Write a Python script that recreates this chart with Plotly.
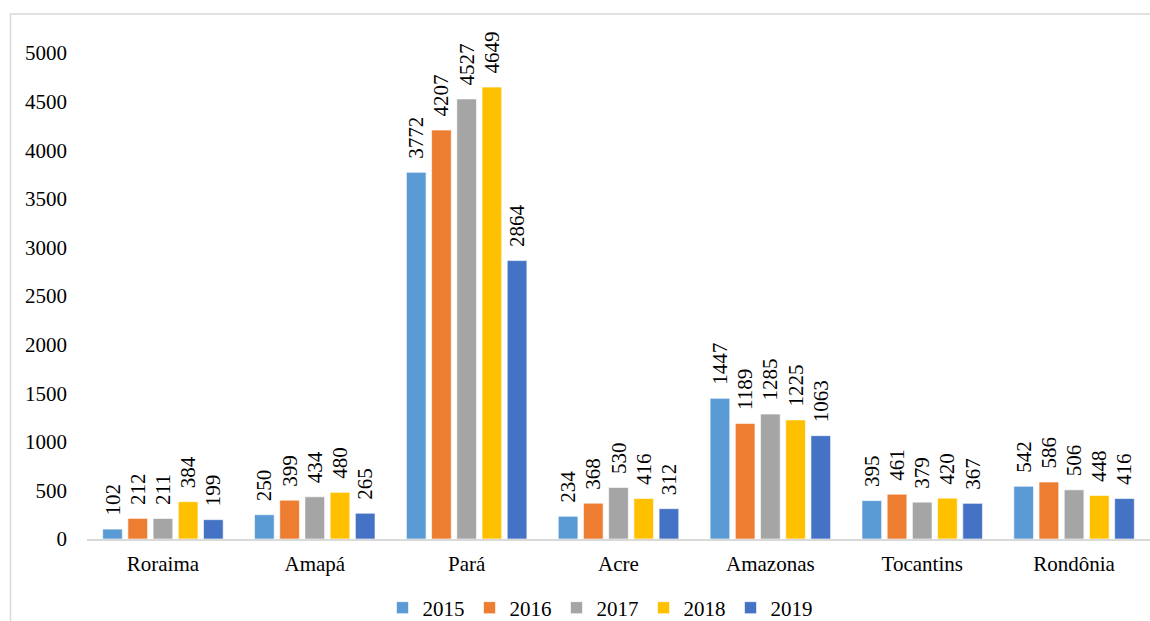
import plotly.graph_objects as go

states = ["Roraima", "Amapá", "Pará", "Acre", "Amazonas", "Tocantins", "Rondônia"]
years = ["2015", "2016", "2017", "2018", "2019"]
v2015 = [102, 250, 3772, 234, 1447, 395, 542]
v2016 = [212, 399, 4207, 368, 1189, 461, 586]
v2017 = [211, 434, 4527, 530, 1285, 379, 506]
v2018 = [384, 480, 4649, 416, 1225, 420, 448]
v2019 = [199, 265, 2864, 312, 1063, 367, 416]
series = [v2015, v2016, v2017, v2018, v2019]
colors = ["#5B9BD5", "#ED7D31", "#A5A5A5", "#FFC000", "#4472C4"]
yticks = list(range(0, 5001, 500))

FONT = "Liberation Serif, Times New Roman, serif"
W, H = 1150, 621
L, R, T, B = 87, 0, 53, 82

fig = go.Figure()
for name, vals, col in zip(years, series, colors):
    fig.add_trace(go.Bar(
        name=name, x=states, y=vals,
        marker=dict(color=col, line=dict(color="rgba(255,255,255,0.6)", width=1)),
        text=[str(v) for v in vals], textposition="outside", textangle=-90,
        texttemplate="\u00a0\u00a0%{text}",
        textfont=dict(family=FONT, size=21, color="#000000"),
        outsidetextfont=dict(family=FONT, size=21, color="#000000"),
        constraintext="none",
        cliponaxis=False,
    ))

pw = W - L - R
ph = H - T - B
fig.add_shape(type="rect", xref="paper", yref="paper",
              x0=(10.5 - L) / pw, x1=(W + 20 - L) / pw,
              y0=(H - B - (H + 20)) / ph, y1=(H - B - 14) / ph,
              line=dict(color="#D9D9D9", width=1.5), fillcolor="rgba(0,0,0,0)", layer="below")

fig.update_layout(
    width=W, height=H,
    margin=dict(l=L, r=R, t=T, b=B, autoexpand=False),
    paper_bgcolor="white", plot_bgcolor="white",
    barmode="group", bargap=0.17, bargroupgap=0.22,
    font=dict(family=FONT, size=21, color="#000000"),
    showlegend=True,
    legend=dict(orientation="h", x=(600 - L) / pw, xanchor="center", y=-(608 - (H - B)) / ph, yanchor="middle",
                font=dict(family=FONT, size=21, color="#000000"), itemwidth=30,
                traceorder="normal"),
)
fig.update_xaxes(showline=True, linecolor="#D9D9D9", linewidth=2, ticks="",
                 showgrid=False, tickfont=dict(family=FONT, size=21), ticklabelstandoff=5)
fig.update_yaxes(range=[0, 5000], tickvals=yticks, ticktext=[str(t) for t in yticks],
                 showgrid=False, zeroline=False, showline=False, ticks="",
                 tickfont=dict(family=FONT, size=21), ticklabelstandoff=19)

fig.write_html("out.html")
